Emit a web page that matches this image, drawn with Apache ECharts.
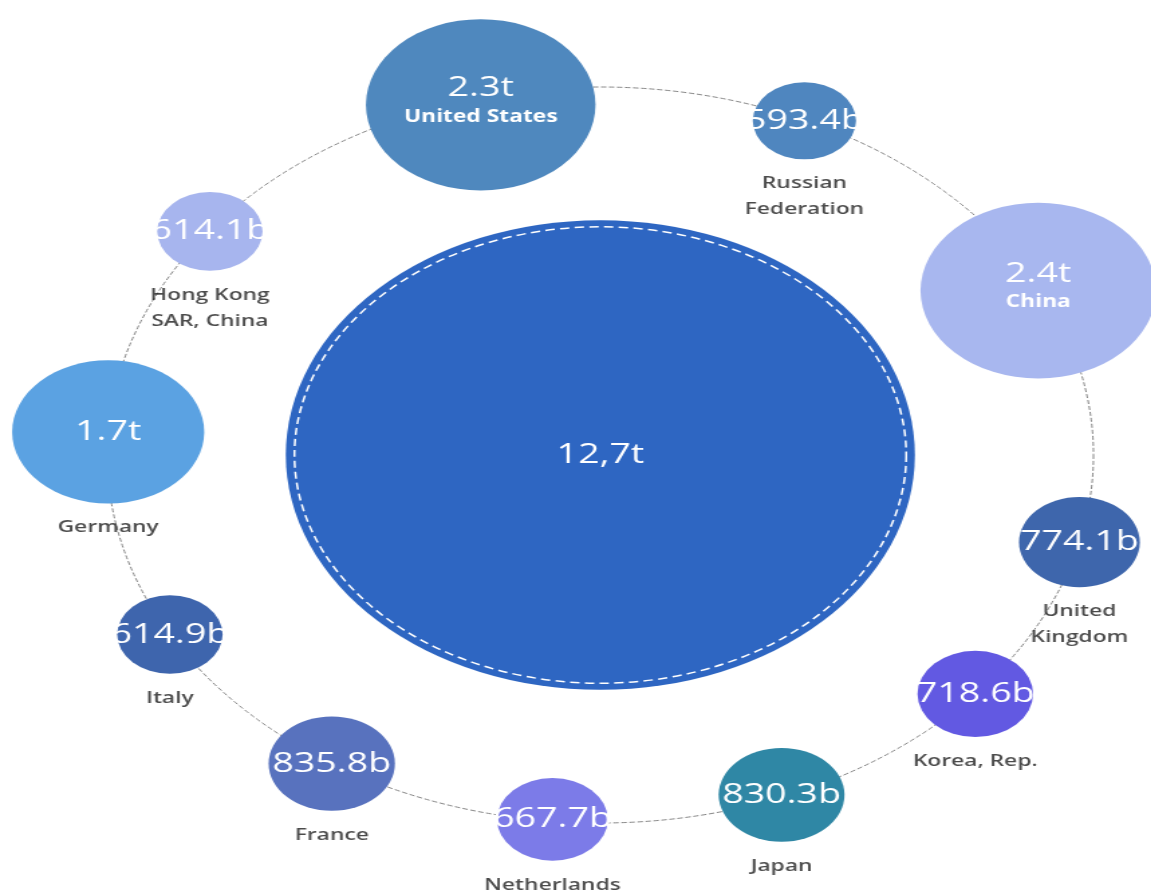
<!DOCTYPE html>
<html>
<head>
<meta charset="utf-8">
<script src="https://cdn.jsdelivr.net/npm/echarts@6/dist/echarts.min.js"></script>
<style>
  html, body { margin: 0; padding: 0; background: #fff; overflow: hidden; }
  #wrap { width: 1151px; height: 896px; overflow: hidden; }
  /* the ring is laid out as a circle, then widened into the oval shape */
  #chart { width: 859px; height: 896px; transform: scaleX(1.34); transform-origin: 0 0; }
</style>
</head>
<body>
<div id="wrap"><div id="chart"></div></div>
<script>
// Merchandise imports, billions of US$
const countries = ['United States', 'Russian Federation', 'China', 'United Kingdom', 'Korea, Rep.',
  'Japan', 'Netherlands', 'France', 'Italy', 'Germany', 'Hong Kong SAR, China'];
const valuesBn = [2300, 593.4, 2400, 774.1, 718.6, 830.3, 667.7, 835.8, 614.9, 1700, 614.1];
const totalBn = 12700;

// Layout: angle on the ring (degrees, clockwise from 3 o'clock) and radial position (1 = on the ring)
const ringAngle = [255.7, 294.5, 333.3, 13.7, 40.5, 68.3, 95.6, 123, 150.8, 183.6, 217.5];
const ringRadius = [0.982, 0.998, 0.994, 1, 1, 0.994, 0.995, 1, 1, 1, 0.998];

// Styles
const bubbleColors = ['#4F88BE', '#4F86BF', '#A8B7EF', '#3E66AC', '#6259E2', '#2F87A5',
  '#7C7BE8', '#5872BE', '#3E65AD', '#5BA2E2', '#A7B5EE'];
const totalColor = '#2E66C2';
const namesInside = ['United States', 'China'];
const nameBreaks = {
  'Russian Federation': 'Russian\nFederation',
  'Hong Kong SAR, China': 'Hong Kong\nSAR, China',
  'United Kingdom': 'United\nKingdom'
};

const FONT = '"Open Sans", "Noto Sans", sans-serif';

function bubbleSize(v) { return 1.78 * Math.pow(v, 0.59); }
function fmt(v) { return v >= 1000 ? (v / 1000).toFixed(1) + 't' : v.toFixed(1) + 'b'; }

const ringData = countries.map((c, i) => ({
  name: c,
  value: [ringRadius[i], ringAngle[i], valuesBn[i]],
  itemStyle: { color: bubbleColors[i] }
}));

const chart = echarts.init(document.getElementById('chart'));
chart.setOption({
  animation: false,
  backgroundColor: '#fff',
  polar: { center: [448, 455], radius: 368 },
  angleAxis: {
    type: 'value', min: 0, max: 360, startAngle: 0, clockwise: true,
    axisLine: { show: true, lineStyle: { color: '#858585', width: 1, type: [4, 2] } },
    axisTick: { show: false }, axisLabel: { show: false }, splitLine: { show: false }
  },
  radiusAxis: {
    type: 'value', min: 0, max: 1, show: false,
    axisLine: { show: false }, axisTick: { show: false }, axisLabel: { show: false }, splitLine: { show: false }
  },
  series: [
    {
      // world total in the middle
      type: 'scatter', coordinateSystem: 'polar', z: 3,
      data: [{ name: 'Total', value: [0, 0, totalBn] }],
      symbolSize: (val) => bubbleSize(val[2]),
      itemStyle: { color: totalColor, opacity: 1 },
      label: {
        show: true, position: 'inside',
        formatter: (p) => (p.value[2] / 1000).toFixed(1).replace('.', ',') + 't',
        color: '#fff', fontFamily: FONT, fontSize: 28
      }
    },
    {
      // dashed white ring inside the total bubble
      type: 'scatter', coordinateSystem: 'polar', z: 4, silent: true,
      data: [{ name: 'Total ring', value: [0, 0, totalBn] }],
      symbolSize: (val) => bubbleSize(val[2]) - 13,
      itemStyle: { color: 'rgba(0,0,0,0)', borderColor: '#ffffff', borderWidth: 1.5, borderType: [7, 4], opacity: 1 },
      label: { show: false }
    },
    {
      // country bubbles with their values
      type: 'scatter', coordinateSystem: 'polar', z: 3,
      data: ringData,
      symbolSize: (val) => bubbleSize(val[2]),
      itemStyle: { opacity: 1 },
      label: {
        show: true, position: 'inside',
        formatter: (p) => namesInside.includes(p.name)
          ? '{v|' + fmt(p.value[2]) + '}\n{n|' + p.name + '}'
          : '{v|' + fmt(p.value[2]) + '}',
        rich: {
          v: { color: '#fff', fontFamily: FONT, fontSize: 28, lineHeight: 30 },
          n: { color: '#fff', fontFamily: FONT, fontSize: 17, fontWeight: 'bold', lineHeight: 28 }
        }
      },
      labelLayout: (p) => namesInside.includes(countries[p.dataIndex]) ? { dy: -3 } : {}
    },
    {
      // country names under the smaller bubbles
      type: 'scatter', coordinateSystem: 'polar', z: 2, silent: true,
      data: ringData.filter(d => !namesInside.includes(d.name)).map(d => ({
        name: d.name, value: d.value, itemStyle: { color: 'rgba(0,0,0,0)' }
      })),
      symbolSize: (val) => bubbleSize(val[2]),
      label: {
        show: true, position: 'bottom', distance: 11,
        formatter: (p) => nameBreaks[p.name] || p.name,
        color: '#1e1e1e', fontFamily: FONT, fontSize: 17, fontWeight: 600, lineHeight: 26, align: 'center'
      }
    }
  ]
});
</script>
</body>
</html>
